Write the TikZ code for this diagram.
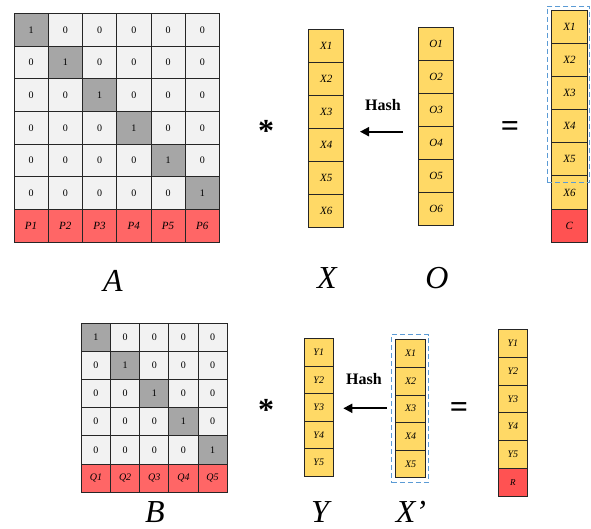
\documentclass[tikz,border=0pt]{standalone}
\usepackage{fontspec}
\setmainfont{Liberation Serif}
\usetikzlibrary{arrows.meta}
\definecolor{cgray}{HTML}{A6A6A6}
\definecolor{clight}{HTML}{F2F2F2}
\definecolor{cred}{HTML}{FF6666}
\definecolor{cdred}{HTML}{FF5252}
\definecolor{cyellow}{HTML}{FFD966}
\definecolor{cblue}{HTML}{5B9BD5}
\begin{document}
\begin{tikzpicture}[x=1pt,y=-1pt,
  cell/.style={draw=black!85, line width=0.8pt, inner sep=0pt, anchor=north west, font=\fontsize{10}{12}\selectfont},
  zerocell/.style={cell, fill=clight},
  onecell/.style={cell, fill=cgray},
  pcell/.style={cell, fill=cred, font=\fontsize{11}{13}\selectfont\itshape},
  ycell/.style={cell, fill=cyellow, font=\fontsize{11}{13}\selectfont\itshape},
  rcell/.style={cell, fill=cdred, font=\fontsize{11}{13}\selectfont\itshape},
  biglabel/.style={inner sep=0pt, anchor=base, text depth=0pt, font=\fontsize{32}{36}\selectfont\itshape},
  hashlabel/.style={inner sep=0pt, font=\fontsize{16}{18}\selectfont\bfseries},
  opsym/.style={inner sep=0pt, font=\fontsize{32}{34}\selectfont\bfseries},
  hasharrow/.style={line width=1.8pt, -{Triangle[length=9pt,width=9pt]}},
  groupbox/.style={draw=cblue, line width=1pt, dash pattern=on 5pt off 3pt}
]
\useasboundingbox (0,0) rectangle (591,529);

% ---------- Matrix A ----------
\foreach \r in {1,...,6} {
  \foreach \c in {1,...,6} {
    \pgfmathsetmacro\xx{13.5+(\c-1)*34.25}
    \pgfmathsetmacro\yy{13+(\r-1)*32.7}
    \ifnum\r=\c
      \node[onecell, minimum width=34.25pt, minimum height=32.7pt] (a-\r-\c) at (\xx,\yy) {1};
    \else
      \node[zerocell, minimum width=34.25pt, minimum height=32.7pt] (a-\r-\c) at (\xx,\yy) {0};
    \fi
  }
}
\foreach \c in {1,...,6} {
  \pgfmathsetmacro\xx{13.5+(\c-1)*34.25}
  \node[pcell, minimum width=34.25pt, minimum height=32.7pt] (p-\c) at (\xx,209.2) {P\c};
}

% ---------- Column X ----------
\foreach \i in {1,...,6} {
  \pgfmathsetmacro\yy{29.3+(\i-1)*33}
  \node[ycell, minimum width=35pt, minimum height=33pt] (x-\i) at (308.3,\yy) {X\i};
}

% ---------- Column O ----------
\foreach \i in {1,...,6} {
  \pgfmathsetmacro\yy{27.3+(\i-1)*33}
  \node[ycell, minimum width=35pt, minimum height=33pt] (o-\i) at (418.3,\yy) {O\i};
}

% ---------- Column C ----------
\foreach \i in {1,...,6} {
  \pgfmathsetmacro\yy{10+(\i-1)*33.1}
  \node[ycell, minimum width=36.6pt, minimum height=33.1pt] (c-\i) at (550.7,\yy) {X\i};
}
\node[rcell, minimum width=36.6pt, minimum height=33.1pt] (c-7) at (550.7,208.6) {C};
\node[groupbox, inner sep=0pt, anchor=north west, minimum width=42.6pt, minimum height=176pt] (cbox) at (546.7,5.7) {};

% ---------- top operators ----------
\node[opsym] (star1) at (266,131) {*};
\node[opsym] (eq1) at (510,129.5) {=};
\node[hashlabel] (hash1) at (383,105) {Hash};
\coordinate (h1s) at (403,131.7);
\coordinate (h1e) at (360,131.7);
\draw[hasharrow] (h1s) -- (h1e);

% ---------- top labels ----------
\node[biglabel] (lA) at (113,291) {A};
\node[biglabel] (lX) at (327,288) {X};
\node[biglabel] (lO) at (437,288) {O};

% ---------- Matrix B ----------
\foreach \r in {1,...,5} {
  \foreach \c in {1,...,5} {
    \pgfmathsetmacro\xx{81+(\c-1)*29.14}
    \pgfmathsetmacro\yy{322.7+(\r-1)*28.17}
    \ifnum\r=\c
      \node[onecell, minimum width=29.14pt, minimum height=28.17pt] (b-\r-\c) at (\xx,\yy) {1};
    \else
      \node[zerocell, minimum width=29.14pt, minimum height=28.17pt] (b-\r-\c) at (\xx,\yy) {0};
    \fi
  }
}
\foreach \c in {1,...,5} {
  \pgfmathsetmacro\xx{81+(\c-1)*29.14}
  \node[pcell, minimum width=29.14pt, minimum height=28.17pt, font=\fontsize{10}{12}\selectfont\itshape] (q-\c) at (\xx,463.55) {Q\c};
}

% ---------- Column Y ----------
\foreach \i in {1,...,5} {
  \pgfmathsetmacro\yy{338.3+(\i-1)*27.5}
  \node[ycell, minimum width=28.7pt, minimum height=27.5pt, font=\fontsize{10}{12}\selectfont\itshape] (y-\i) at (304,\yy) {Y\i};
}

% ---------- Column X' ----------
\foreach \i in {1,...,5} {
  \pgfmathsetmacro\yy{339.3+(\i-1)*27.6}
  \node[ycell, minimum width=29.7pt, minimum height=27.6pt, font=\fontsize{10}{12}\selectfont\itshape] (xp-\i) at (395.3,\yy) {X\i};
}
\node[groupbox, inner sep=0pt, anchor=north west, minimum width=36.4pt, minimum height=148.3pt] (xpbox) at (391.3,334) {};

% ---------- Column R ----------
\foreach \i in {1,...,5} {
  \pgfmathsetmacro\yy{329.3+(\i-1)*27.7}
  \node[ycell, minimum width=28.4pt, minimum height=27.7pt, font=\fontsize{10}{12}\selectfont\itshape] (r-\i) at (498.3,\yy) {Y\i};
}
\node[rcell, minimum width=28.4pt, minimum height=27.7pt, font=\fontsize{9}{11}\selectfont\itshape] (r-6) at (498.3,467.8) {R};

% ---------- bottom operators ----------
\node[opsym] (star2) at (266,410) {*};
\node[opsym] (eq2) at (459,410.5) {=};
\node[hashlabel] (hash2) at (364,379.5) {Hash};
\coordinate (h2s) at (386.7,408.3);
\coordinate (h2e) at (343.3,408.3);
\draw[hasharrow] (h2s) -- (h2e);

% ---------- bottom labels ----------
\node[biglabel] (lB) at (155,522) {B};
\node[biglabel] (lY) at (320,522) {Y};
\node[biglabel] (lXp) at (411,522) {X’};
\end{tikzpicture}
\end{document}
